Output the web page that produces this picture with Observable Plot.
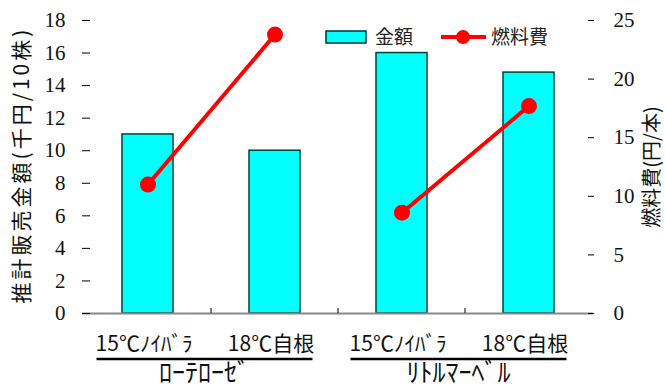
<!DOCTYPE html>
<html><head><meta charset="utf-8">
<script src="https://cdn.jsdelivr.net/npm/d3@7"></script>
<script src="https://cdn.jsdelivr.net/npm/@observablehq/plot@0.6"></script>
<style>body{margin:0;background:#fff}</style>
</head><body><div id="chart"></div>
<script>
const groups = ["ﾛｰﾃﾛｰｾﾞ","ﾛｰﾃﾛｰｾﾞ","ﾘﾄﾙﾏｰﾍﾞﾙ","ﾘﾄﾙﾏｰﾍﾞﾙ"];
const rootstocks = ["15℃ﾉｲﾊﾞﾗ","18℃自根","15℃ﾉｲﾊﾞﾗ","18℃自根"];
const sales = [11.0, 10.0, 16.0, 14.8];
const fuel = [11.0, 23.8, 8.6, 17.7];
const leftTicks = [0,2,4,6,8,10,12,14,16,18];
const rightTicks = [0,5,10,15,20,25];
const leftLabel = "推計販売金額(千円/10株)";
const rightLabel = "燃料費(円/本)";
const legendLabels = ["金額","燃料費"];

const ids = sales.map((_, i) => String(i));
const k = 18 / 25;
const rows = ids.map((id, i) => ({id, group: groups[i], sales: sales[i], fuel: fuel[i] * k}));

const jp = "'Noto Sans CJK JP', sans-serif";
const serif = "'Liberation Serif', Tinos, 'Times New Roman', Times, 'Noto Serif', 'DejaVu Serif', FreeSerif, serif";
const SVGNS = "http://www.w3.org/2000/svg";
function el(tag, attrs, text) {
  const e = document.createElementNS(SVGNS, tag);
  for (const a in attrs) e.setAttribute(a, attrs[a]);
  if (text != null) e.textContent = text;
  return e;
}

function extras(index, scales, values, dim) {
  const g = el("g", {});
  const x = scales.x, bw = x.bandwidth();
  const y0 = dim.height - dim.marginBottom;
  for (let i = 1; i < ids.length; i++) {
    const xb = (x(ids[i-1]) + bw + x(ids[i])) / 2;
    g.append(el("line", {x1: xb, x2: xb, y1: y0, y2: y0 - 5, stroke: "#000", "stroke-width": 1}));
  }
  const uniq = [...new Set(groups)];
  for (const grp of uniq) {
    const idx = ids.filter((_, i) => groups[i] === grp);
    const a = x(idx[0]) + bw / 2 - 51, b = x(idx[idx.length - 1]) + bw / 2 + 38;
    g.append(el("line", {x1: a, x2: b, y1: y0 + 46, y2: y0 + 46, stroke: "#000", "stroke-width": 2.5}));
    g.append(el("text", {x: (a + b) / 2, y: y0 + 60, dy: "0.35em", "text-anchor": "middle", "font-family": jp, "font-size": 26, fill: "#111"}, grp));
  }
  const lx = 326, ly = 37;
  g.append(el("rect", {x: lx, y: ly - 6, width: 40, height: 12, fill: "#00ffff", stroke: "#033", "stroke-width": 1.5}));
  g.append(el("text", {x: lx + 49, y: ly, dy: "0.35em", "text-anchor": "start", "font-family": jp, "font-size": 19, fill: "#222"}, legendLabels[0]));
  g.append(el("line", {x1: lx + 115, x2: lx + 160, y1: ly, y2: ly, stroke: "#f00", "stroke-width": 4}));
  g.append(el("circle", {cx: lx + 137, cy: ly, r: 7, fill: "#f00"}));
  g.append(el("text", {x: lx + 165, y: ly, dy: "0.35em", "text-anchor": "start", "font-family": jp, "font-size": 19, fill: "#222"}, legendLabels[1]));
  return g;
}

const chart = Plot.plot({
  width: 665, height: 387,
  marginLeft: 82, marginRight: 72, marginTop: 20, marginBottom: 74,
  style: {background: "#fff", overflow: "visible"},
  x: {domain: ids, paddingInner: 0.6, paddingOuter: 0.3},
  y: {domain: [0, 18]},
  marks: [
    Plot.barY(rows, {x: "id", y: "sales", fill: "#00ffff", stroke: "#043", strokeWidth: 1.5}),
    Plot.ruleY([0], {stroke: "#888", strokeWidth: 2}),
    Plot.axisX({tickSize: 0, tickPadding: 23, tickFormat: d => rootstocks[+d], fontSize: 21, fontFamily: jp, label: null, color: "#111", dx: -4}),
    Plot.axisY(leftTicks, {anchor: "left", tickSize: 0, tickPadding: 17, fontSize: 21, fontFamily: serif, label: null, color: "#111"}),
    Plot.axisY(leftTicks, {anchor: "left", tickSize: -8, tickFormat: () => "", label: null, line: true}),
    Plot.axisY(rightTicks.map(v => v * k), {anchor: "right", tickSize: 0, tickPadding: 20, fontSize: 21, fontFamily: serif, tickFormat: d => Math.round(d / k), label: null, color: "#111"}),
    Plot.axisY(rightTicks.map(v => v * k), {anchor: "right", tickSize: -6, tickFormat: () => "", label: null, line: true}),
    Plot.text([leftLabel], {frameAnchor: "left", dx: -60, dy: -2, rotate: -90, textAnchor: "middle", fontSize: 21, fontFamily: jp, fill: "#111"}),
    Plot.text([rightLabel], {frameAnchor: "right", dx: 59, rotate: -90, textAnchor: "middle", fontSize: 20, fontFamily: jp, fill: "#111"}),
    Plot.line(rows, {x: "id", y: "fuel", z: "group", stroke: "#f00", strokeWidth: 4}),
    Plot.dot(rows, {x: "id", y: "fuel", r: 8, fill: "#f00"}),
    extras
  ]
});
d3.select(chart).selectAll("text")
  .filter(function() { return this.textContent === leftLabel; })
  .style("letter-spacing", "3px");
document.getElementById("chart").append(chart);
</script>
</body></html>
